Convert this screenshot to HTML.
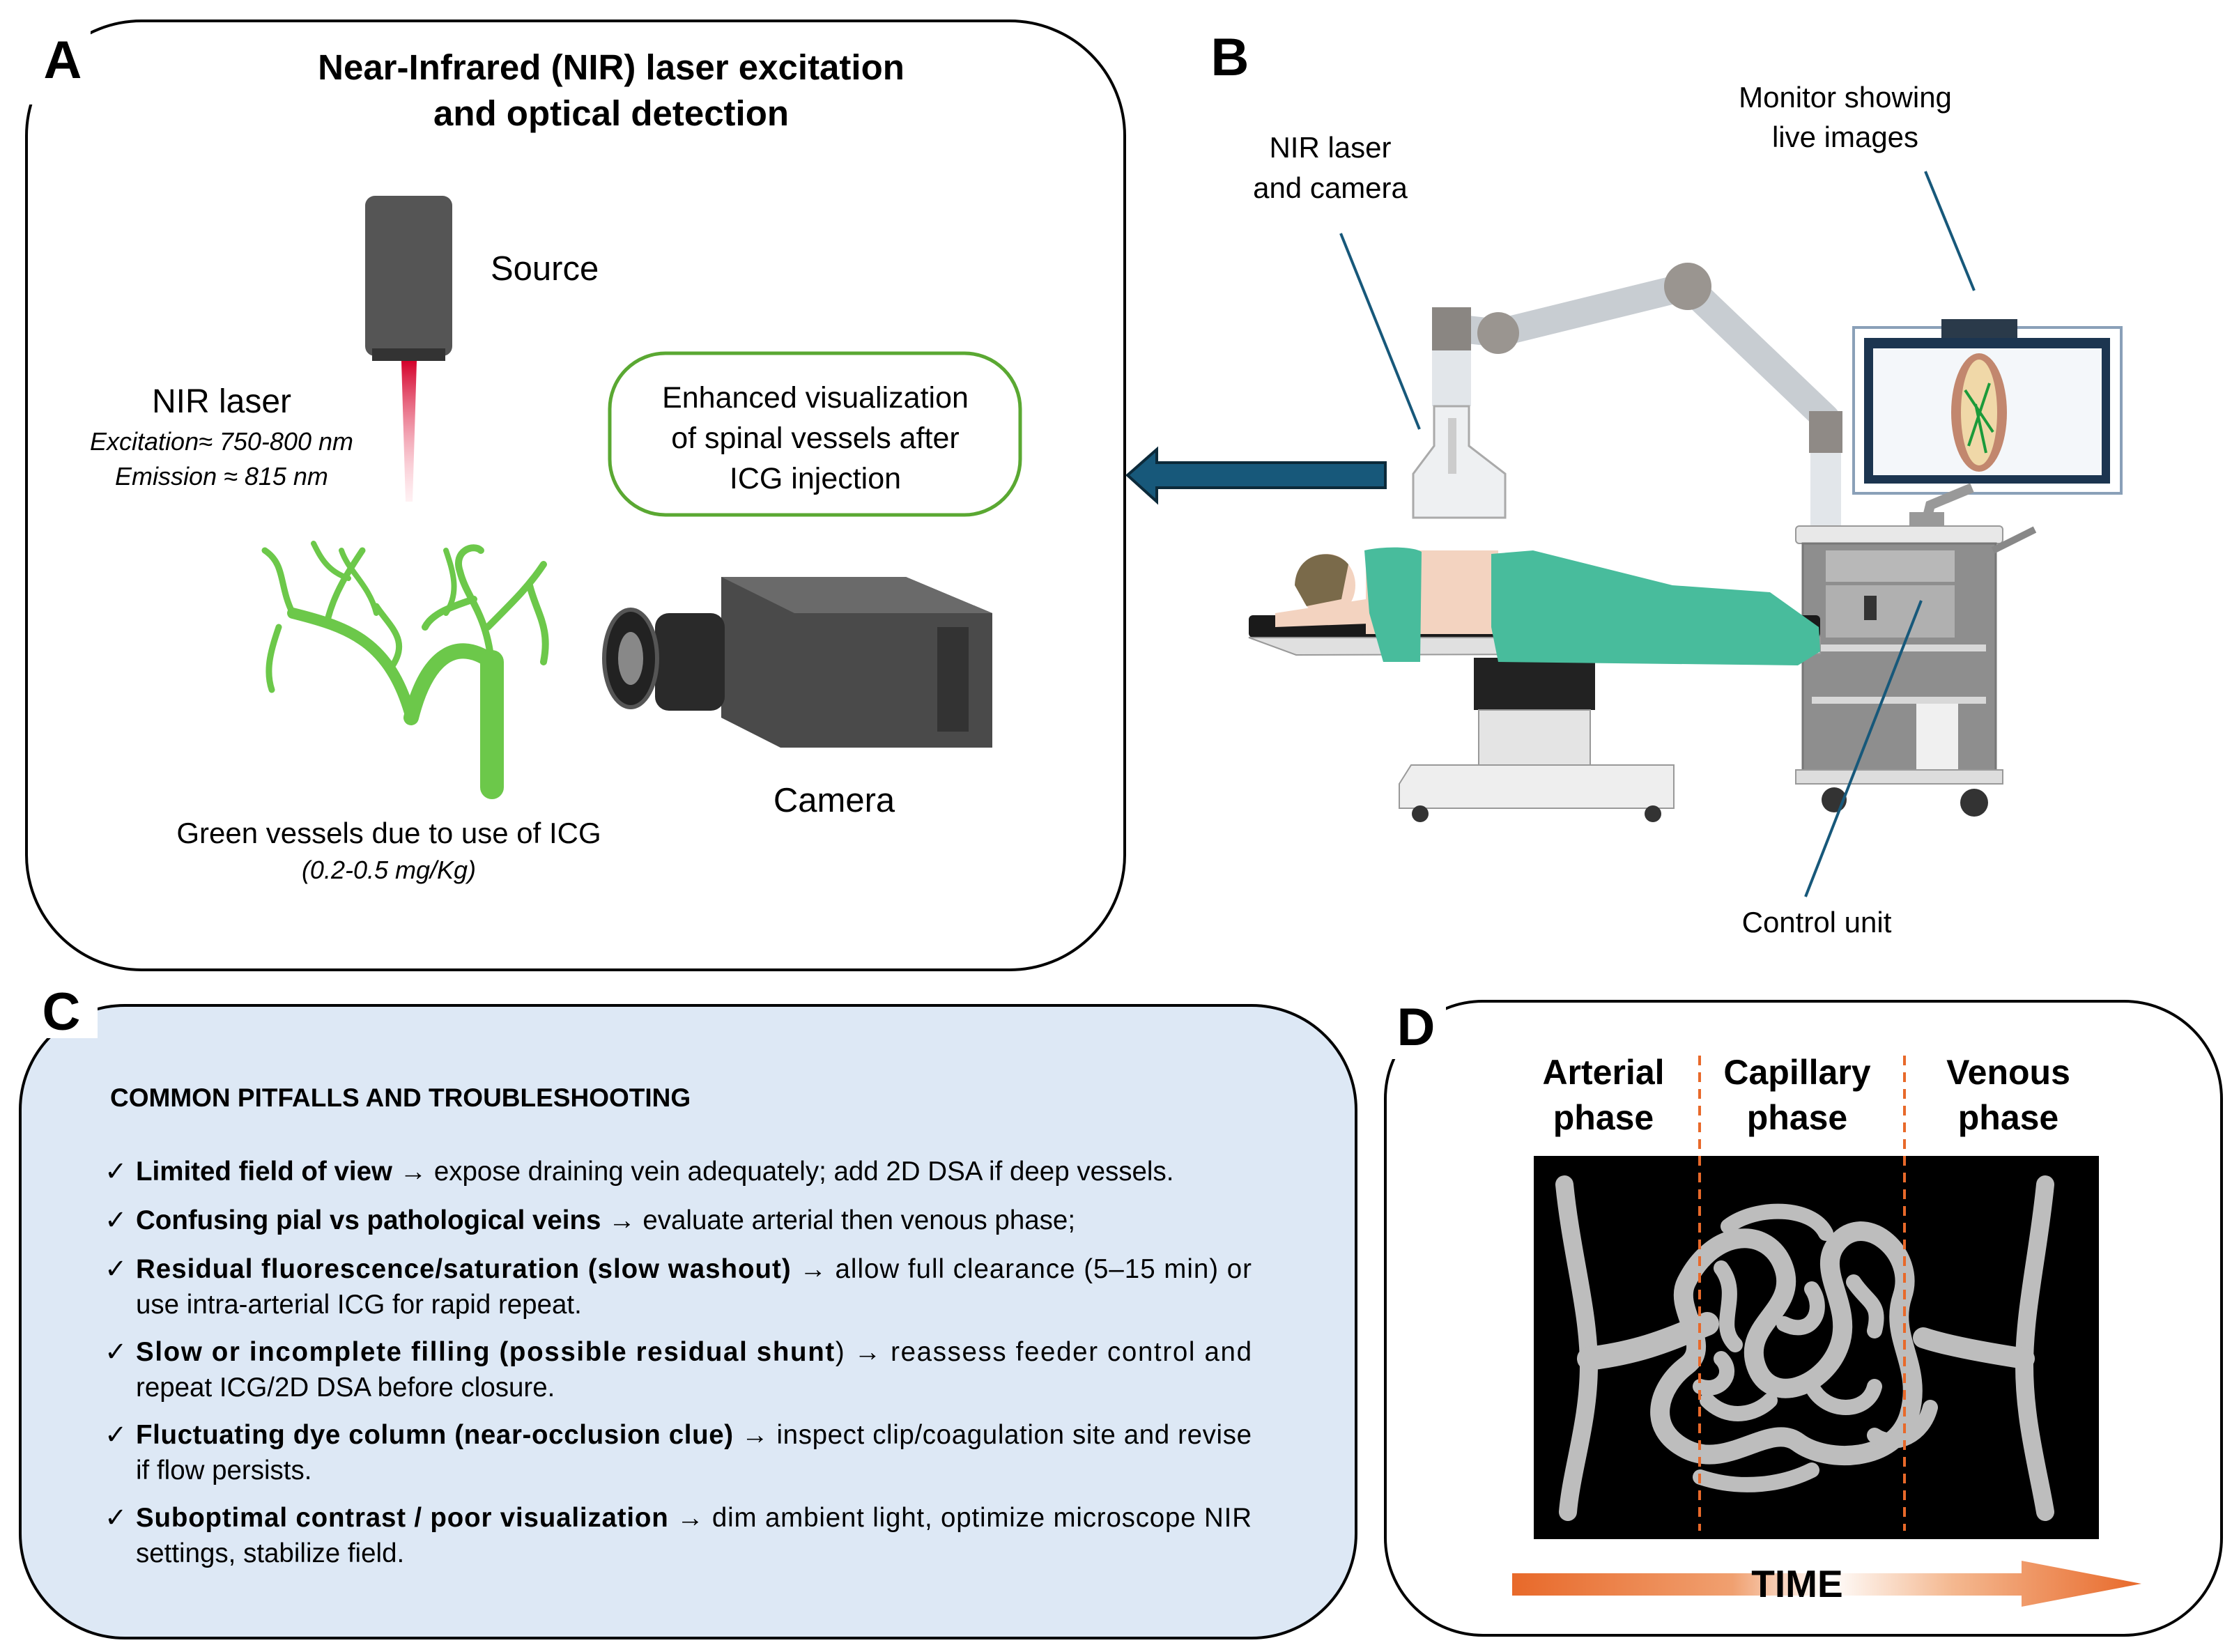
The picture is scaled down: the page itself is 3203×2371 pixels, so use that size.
<!DOCTYPE html>
<html><head><meta charset="utf-8"><style>
html,body{margin:0;padding:0;background:#fff}
svg{display:block}
text{font-family:"Liberation Sans",sans-serif}
</style></head><body>
<svg width="3203" height="2371" viewBox="0 0 3203 2371" xmlns="http://www.w3.org/2000/svg">
<defs>
<linearGradient id="beam" x1="0" y1="0" x2="0" y2="1"><stop offset="0" stop-color="#d4002a"/><stop offset="1" stop-color="#ffd0d8" stop-opacity="0.3"/></linearGradient>
<linearGradient id="time" x1="0" y1="0" x2="1" y2="0"><stop offset="0" stop-color="#e8692a"/><stop offset="0.35" stop-color="#f0a070"/><stop offset="0.5" stop-color="#fff"/><stop offset="0.7" stop-color="#f4b890"/><stop offset="1" stop-color="#e8692a"/></linearGradient>
</defs>

<!-- Panel A -->
<rect x="38" y="30" width="1576" height="1362" rx="165" fill="#fff" stroke="#000" stroke-width="4"/>
<rect x="20" y="30" width="110" height="120" fill="#fff"/>
<text x="90" y="112" font-size="76" font-weight="bold" text-anchor="middle">A</text>
<text x="877" y="114" font-size="51" font-weight="bold" text-anchor="middle">Near-Infrared (NIR) laser excitation</text>
<text x="877" y="180" font-size="51" font-weight="bold" text-anchor="middle">and optical detection</text>
<rect x="524" y="281" width="125" height="230" rx="14" fill="#555"/>
<rect x="534" y="500" width="105" height="18" fill="#333"/>
<polygon points="576,518 598,518 592,720 582,720" fill="url(#beam)"/>
<text x="704" y="402" font-size="49">Source</text>
<text x="318" y="592" font-size="48" text-anchor="middle">NIR laser</text>
<text x="318" y="646" font-size="36" font-style="italic" text-anchor="middle">Excitation≈ 750-800 nm</text>
<text x="318" y="696" font-size="36" font-style="italic" text-anchor="middle">Emission ≈ 815 nm</text>
<rect x="875" y="507" width="589" height="232" rx="80" fill="#fff" stroke="#5aa832" stroke-width="5"/>
<text x="1170" y="585" font-size="43" text-anchor="middle">Enhanced visualization</text>
<text x="1170" y="643" font-size="43" text-anchor="middle">of spinal vessels after</text>
<text x="1170" y="701" font-size="43" text-anchor="middle">ICG injection</text>
<!-- vessels -->
<g stroke="#6cc84a" fill="none" stroke-linecap="round">
<path d="M706 1130 L706 950" stroke-width="34"/>
<path d="M706 950 C650 910 610 950 590 1030" stroke-width="22"/>
<path d="M590 1030 C560 920 500 900 420 880" stroke-width="16"/>
<path d="M420 880 C400 840 410 810 380 790 M470 890 C480 850 500 820 520 790 M400 900 C390 930 380 960 390 990 M560 960 C590 920 560 900 540 870" stroke-width="9"/>
<path d="M706 960 C700 880 670 860 660 820 M660 820 C650 790 680 780 690 790 M700 900 C740 860 760 840 780 810 M760 840 C770 880 790 900 780 950 M680 860 C650 870 620 880 610 900" stroke-width="10"/>
<path d="M540 880 C530 840 500 820 490 790 M640 880 C660 850 650 820 640 790 M500 830 C470 820 460 800 450 780" stroke-width="8"/>
</g>
<!-- camera -->
<polygon points="1035,828 1300,828 1424,880 1424,1073 1120,1073 1035,1030" fill="#4a4a4a"/>
<polygon points="1035,828 1300,828 1424,880 1140,880" fill="#6a6a6a"/>
<rect x="1345" y="900" width="45" height="150" fill="#333"/>
<rect x="940" y="880" width="100" height="140" rx="20" fill="#2a2a2a"/>
<ellipse cx="905" cy="945" rx="38" ry="70" fill="#222" stroke="#555" stroke-width="6"/>
<ellipse cx="905" cy="945" rx="18" ry="38" fill="#888"/>
<text x="1197" y="1165" font-size="49" text-anchor="middle">Camera</text>
<text x="558" y="1210" font-size="42" text-anchor="middle">Green vessels due to use of ICG</text>
<text x="558" y="1261" font-size="36" font-style="italic" text-anchor="middle">(0.2-0.5 mg/Kg)</text>

<!-- Panel B -->
<text x="1765" y="108" font-size="76" font-weight="bold" text-anchor="middle">B</text>
<polygon points="1988,664 1660,664 1660,645 1618,682 1660,720 1660,700 1988,700" fill="#17587a" stroke="#0c2a3a" stroke-width="4"/>
<text x="1909" y="226" font-size="42" text-anchor="middle">NIR laser</text>
<text x="1909" y="284" font-size="42" text-anchor="middle">and camera</text>
<text x="2648" y="154" font-size="42" text-anchor="middle">Monitor showing</text>
<text x="2648" y="211" font-size="42" text-anchor="middle">live images</text>
<!-- arm -->
<path d="M2080 470 L2150 478 L2422 411 L2620 600 L2620 760" stroke="#c8cdd2" stroke-width="40" fill="none" stroke-linejoin="round"/>
<circle cx="2150" cy="478" r="30" fill="#9a9590"/>
<circle cx="2422" cy="411" r="34" fill="#9a9590"/>
<rect x="2596" y="590" width="48" height="60" fill="#8f8a86"/>
<rect x="2598" y="650" width="44" height="110" fill="#e2e6ea"/>
<rect x="2055" y="441" width="56" height="62" fill="#8a8682"/>
<rect x="2055" y="503" width="56" height="80" fill="#e2e6ea"/>
<path d="M2058 583 L2108 583 L2108 640 L2160 680 L2160 743 L2028 743 L2028 680 L2058 640 Z" fill="#eef0f2" stroke="#aaa" stroke-width="3"/>
<rect x="2078" y="600" width="12" height="80" fill="#ccc"/>
<!-- monitor -->
<rect x="2660" y="470" width="384" height="238" fill="none" stroke="#8aa0b8" stroke-width="4"/>
<rect x="2786" y="458" width="109" height="28" fill="#2a3a4a"/>
<rect x="2675" y="485" width="353" height="209" fill="#1c3550"/>
<rect x="2688" y="500" width="328" height="182" fill="#f4f7fa"/>
<ellipse cx="2840" cy="592" rx="40" ry="85" fill="#c2876e"/>
<ellipse cx="2840" cy="592" rx="26" ry="76" fill="#f0d8a8"/>
<path d="M2820 560 L2860 620 M2855 550 L2825 640 M2835 580 L2850 650" stroke="#1b9a3a" stroke-width="4"/>
<path d="M2830 700 L2770 725 L2765 745" stroke="#999" stroke-width="14" fill="none"/>
<rect x="2740" y="735" width="50" height="25" fill="#999"/>
<!-- cart -->
<rect x="2577" y="755" width="297" height="25" rx="5" fill="#e8e8e8" stroke="#999" stroke-width="2"/>
<rect x="2587" y="780" width="277" height="339" fill="#8e8e8e" stroke="#777" stroke-width="3"/>
<rect x="2620" y="790" width="185" height="45" fill="#b8b8b8"/>
<rect x="2620" y="840" width="185" height="75" fill="#b0b0b0"/>
<rect x="2675" y="855" width="18" height="35" fill="#333"/>
<rect x="2600" y="925" width="250" height="10" fill="#d8d8d8"/>
<rect x="2600" y="1000" width="250" height="10" fill="#d8d8d8"/>
<rect x="2750" y="1010" width="60" height="95" fill="#f0f0f0"/>
<rect x="2577" y="1105" width="297" height="20" fill="#ddd" stroke="#999" stroke-width="2"/>
<circle cx="2632" cy="1148" r="18" fill="#333"/>
<circle cx="2833" cy="1152" r="20" fill="#333"/>
<path d="M2860 790 L2920 760" stroke="#888" stroke-width="10"/>
<!-- table -->
<rect x="2115" y="944" width="174" height="75" fill="#222"/>
<rect x="2122" y="1019" width="160" height="85" fill="#e4e4e4" stroke="#999" stroke-width="2"/>
<path d="M2008 1125 L2025 1098 L2402 1098 L2402 1160 L2008 1160 Z" fill="#eee" stroke="#999" stroke-width="2"/>
<circle cx="2038" cy="1168" r="12" fill="#333"/><circle cx="2372" cy="1168" r="12" fill="#333"/>
<rect x="1792" y="883" width="820" height="32" rx="6" fill="#1a1a1a"/>
<path d="M1792 915 L2612 915 L2612 938 L1860 940 Z" fill="#e0e0e0" stroke="#999" stroke-width="2"/>
<!-- patient -->
<path d="M1830 880 L1960 860 L1965 895 L1830 900 Z" fill="#f3d3c0"/>
<ellipse cx="1905" cy="840" rx="40" ry="45" fill="#f3d3c0"/>
<path d="M1858 840 C1860 790 1915 785 1935 810 L1925 860 L1875 870 Z" fill="#7a6a4a"/>
<rect x="1960" y="790" width="190" height="120" fill="#f3d3c0"/>
<path d="M1958 790 C1990 783 2030 785 2040 792 L2038 950 L1985 950 L1965 880 Z" fill="#48bc9c"/>
<path d="M2140 795 L2200 790 L2400 840 L2540 850 L2610 900 L2612 935 L2580 955 L2150 950 L2140 900 Z" fill="#48bc9c"/>
<!-- leader lines -->
<g stroke="#17587a" stroke-width="4">
<line x1="1924" y1="335" x2="2037" y2="616"/>
<line x1="2763" y1="246" x2="2833" y2="417"/>
<line x1="2591" y1="1287" x2="2757" y2="862"/>
</g>
<text x="2607" y="1338" font-size="42" text-anchor="middle">Control unit</text>

<!-- Panel C -->
<rect x="29" y="1443" width="1917" height="908" rx="150" fill="#dde8f5" stroke="#000" stroke-width="4"/>
<rect x="60" y="1420" width="80" height="70" fill="#fff"/>
<text x="88" y="1478" font-size="76" font-weight="bold" text-anchor="middle">C</text>
<text x="158" y="1588" font-size="37" font-weight="bold">COMMON PITFALLS AND TROUBLESHOOTING</text>
<g font-size="38.5">
<text x="150" y="1694">✓</text><text x="150" y="1764">✓</text><text x="150" y="1834">✓</text><text x="150" y="1953">✓</text><text x="150" y="2072">✓</text><text x="150" y="2191">✓</text>
<text x="195" y="1694"><tspan font-weight="bold">Limited field of view</tspan> → expose draining vein adequately; add 2D DSA if deep vessels.</text>
<text x="195" y="1764"><tspan font-weight="bold">Confusing pial vs pathological veins</tspan> → evaluate arterial then venous phase;</text>
<text x="195" y="1834" textLength="1601" lengthAdjust="spacing"><tspan font-weight="bold">Residual fluorescence/saturation (slow washout)</tspan> → allow full clearance (5–15 min) or</text>
<text x="195" y="1885">use intra-arterial ICG for rapid repeat.</text>
<text x="195" y="1953" textLength="1601" lengthAdjust="spacing"><tspan font-weight="bold">Slow or incomplete filling (possible residual shunt</tspan>) → reassess feeder control and</text>
<text x="195" y="2004">repeat ICG/2D DSA before closure.</text>
<text x="195" y="2072" textLength="1601" lengthAdjust="spacing"><tspan font-weight="bold">Fluctuating dye column (near-occlusion clue)</tspan> → inspect clip/coagulation site and revise</text>
<text x="195" y="2123">if flow persists.</text>
<text x="195" y="2191" textLength="1601" lengthAdjust="spacing"><tspan font-weight="bold">Suboptimal contrast / poor visualization</tspan> → dim ambient light, optimize microscope NIR</text>
<text x="195" y="2242">settings, stabilize field.</text>
</g>

<!-- Panel D -->
<rect x="1988" y="1437" width="1200" height="910" rx="140" fill="#fff" stroke="#000" stroke-width="4"/>
<rect x="1975" y="1420" width="100" height="100" fill="#fff"/>
<text x="2032" y="1500" font-size="76" font-weight="bold" text-anchor="middle">D</text>
<g font-size="50" font-weight="bold" text-anchor="middle">
<text x="2301" y="1556">Arterial</text><text x="2301" y="1621">phase</text>
<text x="2579" y="1556">Capillary</text><text x="2579" y="1621">phase</text>
<text x="2882" y="1556">Venous</text><text x="2882" y="1621">phase</text>
</g>
<rect x="2201" y="1659" width="811" height="550" fill="#000"/>
<g fill="none" stroke="#bdbdbd" stroke-linecap="round">
<path d="M2245 1700 C2255 1800 2280 1880 2280 1960 C2280 2040 2255 2110 2250 2170" stroke-width="26"/>
<path d="M2935 1700 C2925 1800 2905 1880 2905 1960 C2905 2040 2925 2110 2935 2170" stroke-width="26"/>
<path d="M2280 1950 C2360 1940 2400 1920 2450 1900" stroke-width="34"/>
<path d="M2905 1950 C2840 1940 2790 1930 2760 1920" stroke-width="30"/>
<path d="M2420 1840 C2460 1760 2540 1760 2560 1820 C2580 1880 2500 1900 2520 1960 C2540 2020 2620 1990 2640 1930 C2660 1870 2600 1820 2640 1780 C2680 1740 2750 1800 2730 1860 C2710 1920 2760 1960 2740 2030 C2720 2100 2620 2100 2580 2070 C2540 2040 2480 2110 2420 2080 C2360 2050 2380 1990 2420 1960 C2460 1930 2400 1880 2420 1840" stroke-width="28"/>
<path d="M2470 1820 C2500 1860 2460 1900 2490 1930 M2600 1990 C2620 2030 2680 2030 2690 1990 M2450 2010 C2480 2040 2520 2030 2540 2010 M2660 1840 C2680 1870 2700 1870 2690 1910 M2480 1760 C2520 1730 2600 1730 2620 1770 M2560 1900 C2600 1920 2620 1880 2600 1850 M2440 1990 C2470 2000 2490 1970 2470 1950 M2690 2060 C2720 2080 2760 2060 2770 2020 M2440 2120 C2500 2140 2560 2130 2600 2110" stroke-width="22"/>
</g>
<g stroke="#e8692a" stroke-width="4" stroke-dasharray="14,10">
<line x1="2439" y1="1515" x2="2439" y2="2197"/>
<line x1="2733" y1="1515" x2="2733" y2="2197"/>
</g>
<polygon points="2170,2258 2901,2258 2901,2240 3073,2273 2901,2306 2901,2290 2170,2290" fill="url(#time)"/>
<text x="2579" y="2292" font-size="55" font-weight="bold" text-anchor="middle">TIME</text>
</svg>
</body></html>
